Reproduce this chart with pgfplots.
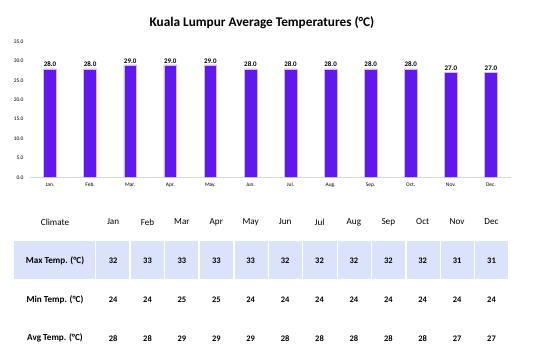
\documentclass[border=0pt]{standalone}
\usepackage{pgfplots}
\pgfplotsset{compat=1.18}
\usepackage{fontspec}
\setmainfont{Carlito}
\definecolor{barcol}{RGB}{96,24,236}
\definecolor{baredge}{RGB}{200,190,250}
\definecolor{rowblue}{RGB}{218,227,250}
\definecolor{axgray}{RGB}{217,217,217}
\begin{document}
\begin{tikzpicture}
\path[use as bounding box] (0,0) rectangle (548bp,360bp);
\node[font=\fontsize{13.3}{15}\selectfont\bfseries] at (262bp,337bp) {Kuala Lumpur Average Temperatures (°C)};
\begin{axis}[
  at={(30bp,182.7bp)}, anchor=south west,
  scale only axis, width=481bp, height=135.6bp,
  xmin=-0.5, xmax=11.5, ymin=0, ymax=35,
  ytick={0,5,...,35},
  xtick=data,
  xticklabels={Jan.,Feb.,Mar.,Apr.,May.,Jun.,Jul.,Aug.,Sep.,Oct.,Nov.,Dec.},
  axis x line*=bottom, axis y line*=left,
  x axis line style={draw=axgray, line width=0.8bp, -},
  y axis line style={draw=none},
  major tick length=0pt,
  /pgf/number format/assume math mode=true,
  yticklabel style={font=\fontsize{5.5}{6}\selectfont, xshift=-3bp, /pgf/number format/.cd, fixed, fixed zerofill, precision=1},
  xticklabel style={font=\fontsize{5.5}{6}\selectfont, yshift=-2bp},
  ybar, bar width=12.7bp,
  nodes near coords={\pgfmathprintnumber[fixed,fixed zerofill,precision=1]{\pgfplotspointmeta}},
  nodes near coords style={font=\fontsize{7}{8}\selectfont\bfseries, inner sep=1.5bp},
]
\addplot[fill=barcol, draw=baredge, line width=0.6bp] coordinates {
(0,28) (1,28) (2,29) (3,29) (4,29) (5,28) (6,28) (7,28) (8,28) (9,28) (10,27) (11,27)};
\end{axis}
% table
\fill[rowblue] (14.3bp,81.3bp) rectangle (508.3bp,119bp);
\foreach \x in {95.7,130,164.3,199,234,268.3,302.7,337.3,371.7,406,440.7,474.7}
  \draw[white, line width=1.2bp] (\x bp,81bp) -- (\x bp,119.3bp);
\node[font=\fontsize{9.2}{10}\selectfont] at (55bp,138bp) {Climate};
\node[font=\fontsize{9.2}{10}\selectfont\bfseries] at (55bp,99bp) {Max Temp. (°C)};
\node[font=\fontsize{9.2}{10}\selectfont\bfseries] at (55bp,60bp) {Min Temp. (°C)};
\node[font=\fontsize{9.2}{10}\selectfont\bfseries] at (55bp,21.7bp) {Avg Temp. (°C)};
\foreach \m [count=\i from 0] in {Jan,Feb,Mar,Apr,May,Jun,Jul,Aug,Sep,Oct,Nov,Dec}
  \node[font=\fontsize{9.2}{10}\selectfont] at ({113.1bp+\i*34.4bp},138bp) {\m};
\foreach \v [count=\i from 0] in {32,33,33,33,33,32,32,32,32,32,31,31}
  \node[font=\fontsize{8.5}{10}\selectfont\bfseries] at ({113.1bp+\i*34.4bp},99bp) {\v};
\foreach \v [count=\i from 0] in {24,24,25,25,24,24,24,24,24,24,24,24}
  \node[font=\fontsize{8.5}{10}\selectfont\bfseries] at ({113.1bp+\i*34.4bp},60bp) {\v};
\foreach \v [count=\i from 0] in {28,28,29,29,29,28,28,28,28,28,27,27}
  \node[font=\fontsize{8.5}{10}\selectfont\bfseries] at ({113.1bp+\i*34.4bp},21.7bp) {\v};
\end{tikzpicture}
\end{document}
